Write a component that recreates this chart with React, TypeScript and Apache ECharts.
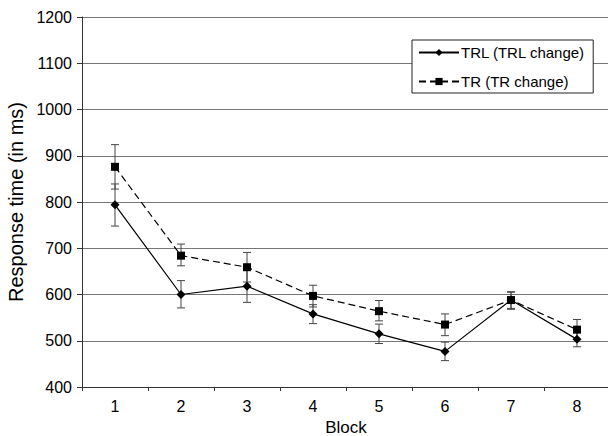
import React, { useEffect, useRef } from "react";
import * as echarts from "echarts";

const blocks = ["1", "2", "3", "4", "5", "6", "7", "8"];
const trl = [794, 600, 618, 558, 515, 477, 588, 503];
const trlLow = [748, 571, 583, 537, 494, 457, 568, 487];
const trlHigh = [839, 630, 653, 578, 536, 497, 605, 520];
const tr = [876, 684, 659, 597, 564, 535, 588, 524];
const trLow = [828, 662, 627, 573, 543, 511, 570, 503];
const trHigh = [924, 709, 691, 620, 587, 558, 606, 546];

const FONT = "Liberation Sans, Arial, sans-serif";

function errorSeries(name: string, low: number[], high: number[]) {
  const data = blocks.map((b, i) => [i, low[i], high[i]]);
  return {
    type: "custom",
    name,
    silent: true,
    z: 1,
    data,
    encode: { x: 0, y: [1, 2] },
    renderItem: (params: any, api: any) => {
      const i = api.value(0);
      const lo = api.coord([i, api.value(1)]);
      const hi = api.coord([i, api.value(2)]);
      const x = lo[0];
      const hw = 4;
      const style = { stroke: "#444", lineWidth: 1 };
      return {
        type: "group",
        children: [
          { type: "line", shape: { x1: x, y1: lo[1], x2: x, y2: hi[1] }, style },
          { type: "line", shape: { x1: x - hw, y1: lo[1], x2: x + hw, y2: lo[1] }, style },
          { type: "line", shape: { x1: x - hw, y1: hi[1], x2: x + hw, y2: hi[1] }, style },
        ],
      };
    },
  };
}

export default function App() {
  const ref = useRef<HTMLDivElement>(null);
  useEffect(() => {
    if (!ref.current) return;
    const chart = echarts.init(ref.current, undefined, { renderer: "svg" });
    chart.setOption({
      animation: false,
      backgroundColor: "#fff",
      textStyle: { fontFamily: FONT },
      grid: {
        left: 82,
        top: 17,
        width: 528,
        height: 370,
        containLabel: false,
        outerBoundsMode: "none",
      },
      legend: {
        orient: "vertical",
        left: 412,
        top: 40,
        width: 177,
        backgroundColor: "#fff",
        borderColor: "#222",
        borderWidth: 1,
        borderRadius: 0,
        padding: [5, 8, 4, 6],
        itemWidth: 40,
        itemHeight: 9,
        itemGap: 14,
        textStyle: { fontFamily: FONT, fontSize: 15, color: "#000", padding: [0, 0, 0, -3] },
        data: ["TRL (TRL change)", "TR (TR change)"],
      },
      xAxis: {
        type: "category",
        data: blocks,
        boundaryGap: true,
        name: "Block",
        nameLocation: "middle",
        nameGap: 26,
        nameTextStyle: { fontFamily: FONT, fontSize: 17, color: "#000" },
        axisLine: { lineStyle: { color: "#333", width: 1 } },
        axisTick: { show: true, length: 4, lineStyle: { color: "#333" } },
        axisLabel: { fontFamily: FONT, fontSize: 16, color: "#000", margin: 11 },
        splitLine: { show: false },
      },
      yAxis: {
        type: "value",
        min: 400,
        max: 1200,
        interval: 100,
        name: "Response time (in ms)",
        nameLocation: "middle",
        nameGap: 56,
        nameTextStyle: { fontFamily: FONT, fontSize: 20, color: "#000" },
        axisLine: { show: true, lineStyle: { color: "#333", width: 1 } },
        axisTick: { show: true, length: 5, lineStyle: { color: "#333" } },
        axisLabel: {
          fontFamily: FONT,
          fontSize: 16,
          color: "#000",
          margin: 10,
          formatter: (v: number) => String(v),
        },
        splitLine: { show: true, lineStyle: { color: "#777", width: 1 } },
      },
      series: [
        errorSeries("trlErr", trlLow, trlHigh),
        errorSeries("trErr", trLow, trHigh),
        {
          type: "line",
          name: "TRL (TRL change)",
          data: trl,
          z: 3,
          symbol: "diamond",
          symbolSize: 9,
          itemStyle: { color: "#000" },
          lineStyle: { color: "#000", width: 1.2, type: "solid" },
        },
        {
          type: "line",
          name: "TR (TR change)",
          data: tr,
          z: 3,
          symbol: "rect",
          symbolSize: 8,
          itemStyle: { color: "#000" },
          lineStyle: { color: "#000", width: 1.2, type: [7, 4] },
        },
      ],
    });
    return () => chart.dispose();
  }, []);
  return <div ref={ref} style={{ width: 608, height: 436, position: "absolute", left: 0, top: 0 }} />;
}
